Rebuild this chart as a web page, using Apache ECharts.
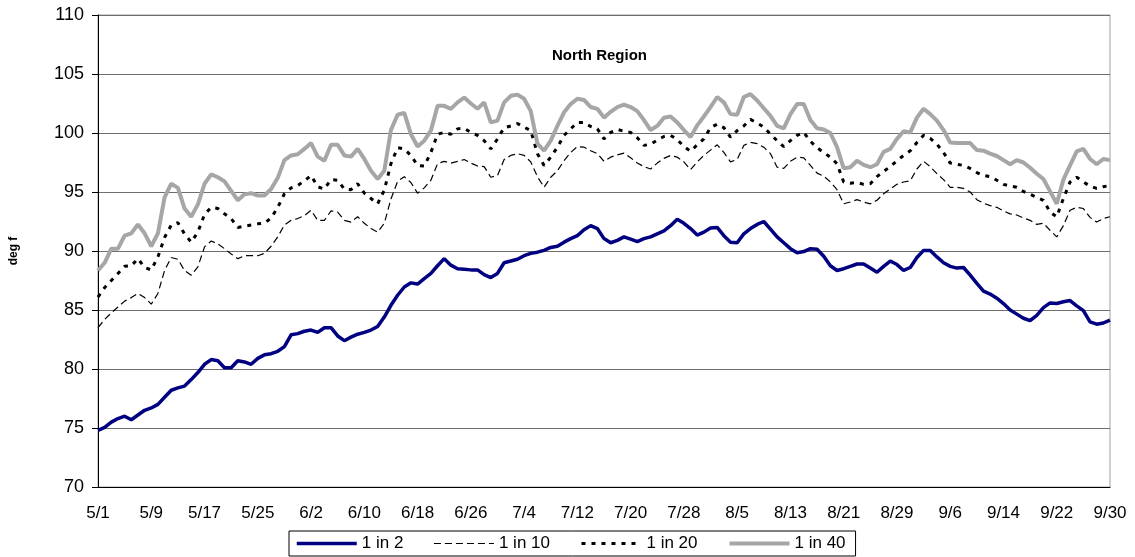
<!DOCTYPE html>
<html lang="en">
<head>
  <meta charset="utf-8">
  <title>North Region</title>
  <script src="https://cdn.jsdelivr.net/npm/echarts@6/dist/echarts.min.js"></script>
  <style>
    html, body, #chart { width: 100%; height: 100%; margin: 0; padding: 0; overflow: hidden; background: #fff; }
  </style>
</head>
<body>
  <div id="chart"></div>
  <script>
    // days 5/1 .. 9/30
    var months = [5, 6, 7, 8, 9];
    var monthDays = [31, 30, 31, 31, 30];
    var yTicks = [70, 75, 80, 85, 90, 95, 100, 105, 110];
    var seriesNames = ['1 in 2', '1 in 10', '1 in 20', '1 in 40'];

    var in2 = [
      74.8, 75.05, 75.5, 75.8, 76.0, 75.7, 76.1, 76.5, 76.7, 77.0,
      77.6, 78.2, 78.4, 78.55, 79.1, 79.7, 80.4, 80.8, 80.7, 80.1,
      80.1, 80.7, 80.6, 80.4, 80.9, 81.2, 81.3, 81.5, 81.9, 82.9,
      83.0, 83.2, 83.3, 83.1, 83.5, 83.5, 82.8, 82.4, 82.7, 82.95,
      83.1, 83.3, 83.6, 84.4, 85.4, 86.25, 86.95, 87.3, 87.2, 87.65,
      88.1, 88.75, 89.35, 88.8, 88.5, 88.45, 88.4, 88.4, 88.0, 87.75,
      88.1, 89.0, 89.15, 89.3, 89.6, 89.8, 89.9, 90.05, 90.3, 90.4,
      90.75, 91.05, 91.3, 91.8, 92.15, 91.9, 91.05, 90.7, 90.9, 91.2,
      91.0, 90.8, 91.05, 91.2, 91.45, 91.7, 92.15, 92.7, 92.35, 91.9,
      91.35, 91.6, 91.95, 92.0, 91.3, 90.75, 90.7, 91.45, 91.9, 92.25,
      92.5, 91.85, 91.2, 90.7, 90.2, 89.85, 89.95, 90.2, 90.15, 89.55,
      88.75, 88.35, 88.5, 88.7, 88.9, 88.9, 88.55, 88.2, 88.7, 89.15,
      88.85, 88.35, 88.6, 89.45, 90.05, 90.05, 89.5, 89.0, 88.7, 88.55,
      88.6, 87.95, 87.25, 86.6, 86.35, 86.0, 85.55, 85.0, 84.65, 84.3,
      84.1, 84.55, 85.2, 85.6, 85.55, 85.7, 85.8, 85.35, 84.95, 84.0,
      83.8, 83.9, 84.15
    ];
    var in10 = [
      83.5, 84.2, 84.75, 85.25, 85.75, 86.05, 86.4, 86.05, 85.5, 86.4,
      88.35, 89.45, 89.3, 88.35, 87.95, 88.65, 90.35, 90.85, 90.6, 90.2,
      89.75, 89.35, 89.6, 89.6, 89.6, 89.8, 90.4, 91.2, 92.2, 92.6,
      92.75, 93.0, 93.45, 92.6, 92.6, 93.4, 93.3, 92.6, 92.45, 92.9,
      92.35, 91.9, 91.6, 92.35, 94.4, 95.9, 96.3, 95.8, 94.9, 95.35,
      96.0, 97.4, 97.6, 97.45, 97.6, 97.75, 97.45, 97.2, 97.15, 96.25,
      96.4, 97.75, 98.1, 98.25, 98.1, 97.55, 96.3, 95.4, 96.25, 96.8,
      97.65, 98.35, 98.85, 98.8, 98.5, 98.25, 97.6, 97.95, 98.15, 98.3,
      97.9, 97.45, 97.15, 96.95, 97.45, 97.85, 98.1, 97.95, 97.55, 96.9,
      97.55, 98.1, 98.55, 99.0, 98.35, 97.55, 97.75, 98.95, 99.2, 99.1,
      98.8, 98.25, 97.1, 97.0, 97.6, 97.95, 97.9, 97.25, 96.6, 96.35,
      95.85, 95.2, 94.0, 94.15, 94.35, 94.15, 94.0, 94.3, 94.85, 95.25,
      95.65, 95.85, 95.95, 96.95, 97.6, 97.15, 96.55, 96.05, 95.4, 95.4,
      95.3, 95.0, 94.35, 94.05, 93.85, 93.7, 93.4, 93.15, 93.05, 92.8,
      92.6, 92.25, 92.35, 91.75, 91.2, 92.15, 93.45, 93.7, 93.6, 92.85,
      92.45, 92.75, 92.9
    ];
    var in20 = [
      86.1, 86.9, 87.5, 88.1, 88.7, 88.75, 89.35, 88.6, 88.4, 89.5,
      91.15, 92.2, 92.4, 91.45, 90.75, 91.6, 93.1, 93.7, 93.6, 93.15,
      92.75, 92.0, 92.1, 92.2, 92.3, 92.35, 92.8, 93.7, 94.85, 95.35,
      95.55, 95.95, 96.4, 95.45, 95.25, 96.05, 96.0, 95.25, 95.2, 95.7,
      94.9, 94.45, 94.0, 95.15, 97.4, 98.75, 98.65, 98.1, 97.25, 97.2,
      98.35, 99.9, 100.05, 99.9, 100.35, 100.4, 100.05, 99.8, 99.35, 98.65,
      99.5, 100.45, 100.6, 100.8, 100.5, 100.2, 98.25, 97.25, 97.95, 98.8,
      99.8, 100.35, 100.9, 100.9, 100.55, 100.35, 99.5, 100.05, 100.3, 100.15,
      100.05, 99.6, 98.95, 99.05, 99.4, 99.7, 99.8, 99.45, 98.85, 98.45,
      99.0, 99.5, 100.45, 100.75, 100.45, 99.65, 100.2, 100.6, 101.15, 100.85,
      100.5, 99.9, 99.35, 98.85, 99.35, 99.8, 100.05, 99.3, 98.75, 98.35,
      97.95, 97.4, 95.85, 95.75, 95.8, 95.65, 95.7, 96.3, 96.75, 97.15,
      97.65, 98.1, 98.5, 99.2, 99.8, 99.55, 99.05, 98.35, 97.45, 97.35,
      97.25, 97.0, 96.65, 96.4, 96.3, 96.0, 95.65, 95.5, 95.4, 95.05,
      94.8, 94.55, 94.3, 93.3, 92.9, 94.45, 95.85, 96.25, 95.85, 95.5,
      95.3, 95.45, 95.55
    ];
    var in40 = [
      88.35, 89.0, 90.2, 90.2, 91.3, 91.5, 92.25, 91.5, 90.4, 91.5,
      94.55, 95.7, 95.35, 93.6, 92.9, 93.95, 95.7, 96.5, 96.25, 95.9,
      95.1, 94.3, 94.8, 94.9, 94.7, 94.7, 95.25, 96.2, 97.7, 98.1,
      98.2, 98.65, 99.15, 98.0, 97.65, 99.0, 99.0, 98.1, 98.0, 98.65,
      97.8, 96.8, 96.1, 96.8, 100.25, 101.55, 101.7, 99.9, 98.85, 99.35,
      100.2, 102.3, 102.3, 102.05, 102.6, 103.0, 102.5, 102.05, 102.6, 100.9,
      101.05, 102.6, 103.15, 103.25, 102.9, 101.85, 99.1, 98.5, 99.35, 100.6,
      101.75, 102.45, 102.9, 102.8, 102.2, 102.05, 101.3, 101.8, 102.2, 102.4,
      102.2, 101.85, 101.1, 100.25, 100.6, 101.3, 101.4, 100.9, 100.25, 99.65,
      100.65, 101.4, 102.2, 103.05, 102.6, 101.6, 101.55, 103.05, 103.3, 102.75,
      102.1, 101.45, 100.6, 100.4, 101.6, 102.45, 102.45, 101.1, 100.4, 100.3,
      100.0, 98.8, 97.0, 97.1, 97.65, 97.3, 97.1, 97.35, 98.4, 98.65,
      99.5, 100.15, 100.05, 101.3, 102.05, 101.6, 101.05, 100.25, 99.2, 99.15,
      99.15, 99.15, 98.55, 98.5, 98.25, 98.05, 97.7, 97.35, 97.7, 97.5,
      97.05, 96.55, 96.1, 95.05, 94.0, 96.05, 97.25, 98.45, 98.65, 97.8,
      97.35, 97.8, 97.7
    ];

    var days = [];
    for (var m = 0; m < months.length; m++) {
      for (var d = 1; d <= monthDays[m]; d++) {
        days.push(months[m] + '/' + d);
      }
    }

    var font = 'Liberation Sans, Arial, sans-serif';
    var styles = [
      { color: '#000080', width: 3.5, type: 'solid' },
      { color: '#000', width: 1.2, type: [7, 4] },
      { color: '#000', width: 3, type: [4, 6] },
      { color: '#a6a6a6', width: 4, type: 'solid' }
    ];
    var chart = echarts.init(document.getElementById('chart'));

    chart.setOption({
      animation: false,
      title: {
        text: 'North Region',
        left: 552,
        top: 48,
        padding: 0,
        textStyle: { fontFamily: font, fontSize: 15, fontWeight: 'bold', color: '#000' }
      },
      legend: {
        data: seriesNames.map(function (n, i) {
          return { name: n, lineStyle: { width: styles[i].width } };
        }),
        left: 289,
        bottom: 1,
        itemWidth: 60,
        itemHeight: 12,
        itemGap: 30,
        padding: [4, 10, 4, 6],
        borderColor: '#000',
        borderWidth: 1,
        borderRadius: 0,
        itemStyle: { opacity: 0 },
        textStyle: { fontFamily: font, fontSize: 17, color: '#000' }
      },
      grid: { left: 96, right: 25, top: 15, bottom: 70, show: true, borderColor: '#a0a0a0', borderWidth: 1 },
      xAxis: {
        type: 'category',
        data: days,
        boundaryGap: false,
        axisLine: { lineStyle: { color: '#000', width: 1 } },
        axisTick: { show: false },
        axisLabel: { interval: 7, margin: 18, fontFamily: font, fontSize: 17, color: '#000' },
        splitLine: { show: false }
      },
      yAxis: {
        type: 'value',
        min: yTicks[0],
        max: yTicks[yTicks.length - 1],
        interval: 5,
        name: 'deg f',
        nameLocation: 'middle',
        nameRotate: 90,
        nameGap: 78,
        nameTextStyle: { fontFamily: font, fontSize: 12, fontWeight: 'bold', color: '#000' },
        axisLine: { show: true, lineStyle: { color: '#000', width: 1 } },
        axisTick: { show: true, length: 6, lineStyle: { color: '#000' } },
        axisLabel: { margin: 14, fontFamily: font, fontSize: 18, color: '#000' },
        splitLine: { lineStyle: { color: '#6e6e6e', width: 1 } }
      },
      series: seriesNames.map(function (n, i) {
        return {
          name: n,
          type: 'line',
          data: [in2, in10, in20, in40][i],
          symbol: 'none',
          itemStyle: { color: styles[i].color },
          lineStyle: styles[i]
        };
      })
    });
  </script>
</body>
</html>
